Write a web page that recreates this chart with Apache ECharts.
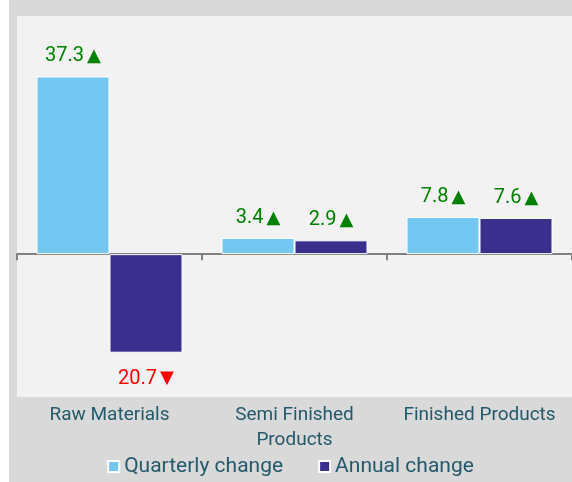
<!DOCTYPE html>
<html>
<head>
<meta charset="utf-8">
<script src="https://cdn.jsdelivr.net/npm/echarts@6/dist/echarts.min.js"></script>
<style>
  html, body { margin: 0; padding: 0; background: #fff; }
  #chart { position: absolute; left: 9px; top: 0; width: 563px; height: 482px; }
</style>
</head>
<body>
<div id="chart"></div>
<script>
var categories = ['Raw Materials', 'Semi Finished\nProducts', 'Finished Products'];
var seriesNames = ['Quarterly change', 'Annual change'];
var quarterly = [37.3, 3.4, 7.8];
var annual = [-20.7, 2.9, 7.6];
var colors = ['#74c7f0', '#3b2f8e'];

var textColor = '#23596b';

function makeData(values) {
  return values.map(function (v) {
    return {
      value: v,
      label: v < 0 ? { position: 'bottom', distance: 16 } : { position: 'top', distance: 10 }
    };
  });
}

function fmt(p) {
  var v = p.value;
  if (v < 0) return '{dn|' + Math.abs(v).toFixed(1) + '}{dnArrow|▼}';
  return '{up|' + v.toFixed(1) + '}{upArrow|▲}';
}

var labelRich = {
  up: { color: '#008000', fontSize: 20, fontFamily: 'Roboto', lineHeight: 20 },
  upArrow: { color: '#008000', fontSize: 18, fontFamily: 'DejaVu Sans', padding: [0, 0, 0, 3], lineHeight: 20 },
  dn: { color: '#ff0000', fontSize: 20, fontFamily: 'Roboto', lineHeight: 20 },
  dnArrow: { color: '#ff0000', fontSize: 18, fontFamily: 'DejaVu Sans', padding: [0, 0, 0, 3], lineHeight: 20 }
};

var chart = echarts.init(document.getElementById('chart'));

var option = {
  backgroundColor: '#d9d9d9',
  animation: false,
  textStyle: { fontFamily: 'Roboto' },
  grid: {
    left: 8,
    right: 0,
    top: 16,
    bottom: 85,
    outerBoundsMode: 'none',
    containLabel: false,
    show: true,
    backgroundColor: '#f2f2f2',
    borderWidth: 0
  },
  legend: {
    data: seriesNames,
    left: 'center',
    top: 451,
    itemWidth: 11,
    itemHeight: 11,
    itemGap: 35,
    icon: 'rect',
    textStyle: { color: textColor, fontSize: 21, fontFamily: 'Roboto' }
  },
  xAxis: {
    type: 'category',
    data: categories,
    axisLine: { onZero: true, lineStyle: { color: '#808080', width: 2 } },
    axisTick: { show: true, length: 6, lineStyle: { color: '#808080', width: 2 } },
    axisLabel: {
      margin: 6,
      color: textColor,
      fontSize: 19,
      fontFamily: 'Roboto',
      lineHeight: 25,
      interval: 0
    }
  },
  yAxis: {
    type: 'value',
    min: -30,
    max: 50,
    show: false,
    splitLine: { show: false }
  },
  series: [
    {
      name: seriesNames[0],
      type: 'bar',
      data: makeData(quarterly),
      barWidth: 73,
      barGap: '0%',
      itemStyle: { color: colors[0], borderColor: '#ffffff', borderWidth: 1 },
      label: { show: true, formatter: fmt, rich: labelRich }
    },
    {
      name: seriesNames[1],
      type: 'bar',
      data: makeData(annual),
      barWidth: 73,
      barGap: '0%',
      itemStyle: { color: colors[1], borderColor: '#ffffff', borderWidth: 1 },
      label: { show: true, formatter: fmt, rich: labelRich }
    }
  ]
};

chart.setOption(option);
</script>
</body>
</html>
